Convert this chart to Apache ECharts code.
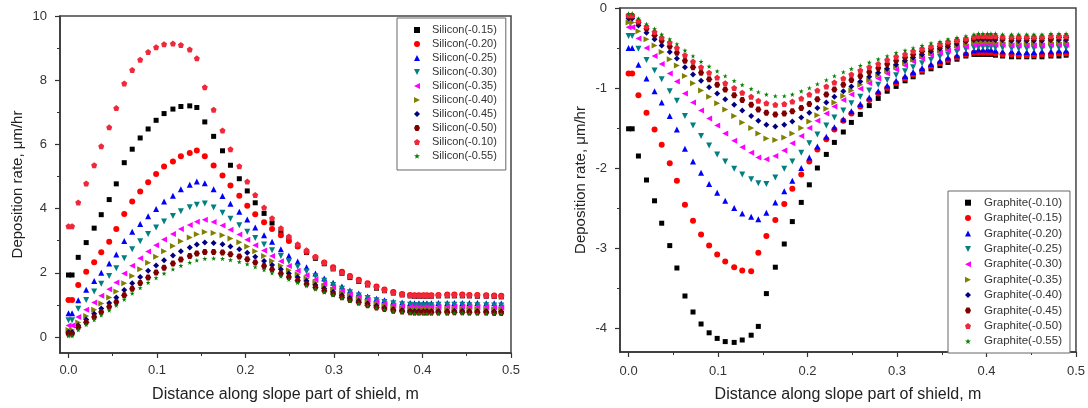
<!DOCTYPE html>
<html>
<head>
<meta charset="utf-8">
<script src="https://cdn.jsdelivr.net/npm/echarts@6/dist/echarts.min.js"></script>
<style>html,body{margin:0;padding:0;background:#fff}#c{width:1088px;height:408px}</style>
</head>
<body>
<div id="c"></div>
<script>
// shared x positions (m)
const X = [0,0.004,0.011,0.020,0.029,0.037,0.046,0.054,0.063,0.072,
 0.081,0.090,0.099,0.108,0.118,0.127,0.137,0.145,0.154,0.164,
 0.174,0.183,0.193,0.202,0.211,0.221,0.230,0.240,0.249,0.259,
 0.269,0.279,0.289,0.299,0.309,0.318,0.328,0.338,0.348,0.357,
 0.367,0.377,0.386,0.391,0.396,0.401,0.405,0.410,0.418,0.428,
 0.436,0.445,0.453,0.462,0.472,0.481,0.489];

// Silicon deposition rate (um/hr)
const SI_10 = [3.45,3.45,4.19,4.78,5.35,5.94,6.53,7.13,7.90,8.32,8.64,8.88,9.03,9.12,9.14,9.10,8.96,8.68,7.78,7.08,6.43,5.85,5.32,4.84,4.42,4.03,3.70,3.39,3.13,2.89,2.70,2.50,2.31,2.15,2.00,1.88,1.76,1.65,1.55,1.46,1.38,1.33,1.30,1.29,1.29,1.29,1.29,1.29,1.30,1.31,1.31,1.31,1.30,1.30,1.29,1.28,1.27];
const SI_15 = [1.93,1.93,2.48,2.94,3.39,3.81,4.28,4.77,5.43,5.85,6.20,6.48,6.75,6.96,7.10,7.18,7.20,7.15,6.70,6.25,5.80,5.35,4.93,4.55,4.18,3.85,3.55,3.28,3.05,2.83,2.63,2.45,2.28,2.12,1.98,1.85,1.73,1.62,1.52,1.44,1.37,1.31,1.28,1.27,1.27,1.27,1.27,1.27,1.28,1.28,1.28,1.28,1.28,1.27,1.27,1.26,1.25];
const SI_20 = [1.15,1.15,1.62,2.03,2.33,2.64,2.97,3.36,3.83,4.22,4.53,4.82,5.08,5.31,5.47,5.63,5.73,5.81,5.63,5.34,5.03,4.72,4.40,4.09,3.82,3.57,3.36,3.17,2.99,2.82,2.65,2.48,2.32,2.17,2.03,1.90,1.78,1.67,1.57,1.48,1.40,1.34,1.31,1.30,1.30,1.30,1.30,1.30,1.31,1.32,1.32,1.32,1.31,1.31,1.30,1.29,1.28];
const SI_25 = [0.74,0.74,1.14,1.47,1.74,2.00,2.29,2.57,2.99,3.28,3.52,3.76,3.99,4.22,4.40,4.60,4.74,4.84,4.79,4.60,4.39,4.15,3.90,3.66,3.41,3.17,2.97,2.73,2.53,2.35,2.17,1.98,1.82,1.69,1.57,1.45,1.35,1.26,1.19,1.14,1.10,1.07,1.06,1.05,1.05,1.05,1.05,1.05,1.06,1.06,1.06,1.06,1.06,1.06,1.05,1.05,1.04];
const SI_30 = [0.52,0.52,0.88,1.15,1.42,1.66,1.90,2.14,2.45,2.73,2.98,3.21,3.41,3.60,3.77,3.92,4.04,4.12,4.16,4.03,3.87,3.68,3.48,3.28,3.08,2.88,2.70,2.52,2.35,2.19,2.04,1.89,1.75,1.62,1.50,1.39,1.29,1.21,1.14,1.09,1.05,1.02,1.00,0.99,0.99,0.99,0.99,0.99,1.00,1.00,1.00,1.00,0.99,0.99,0.99,0.98,0.98];
const SI_35 = [0.36,0.36,0.62,0.85,1.07,1.28,1.49,1.70,1.98,2.22,2.45,2.66,2.86,3.04,3.21,3.36,3.49,3.59,3.65,3.58,3.47,3.34,3.19,3.03,2.86,2.69,2.52,2.36,2.21,2.06,1.92,1.79,1.66,1.54,1.43,1.33,1.24,1.16,1.09,1.03,0.99,0.96,0.94,0.93,0.93,0.93,0.93,0.93,0.93,0.94,0.94,0.94,0.94,0.93,0.93,0.92,0.92];
const SI_40 = [0.22,0.22,0.45,0.65,0.85,1.04,1.23,1.42,1.67,1.90,2.11,2.31,2.50,2.67,2.83,2.98,3.10,3.20,3.27,3.24,3.17,3.07,2.95,2.82,2.67,2.52,2.37,2.22,2.08,1.95,1.82,1.70,1.58,1.47,1.37,1.27,1.18,1.10,1.03,0.97,0.92,0.89,0.87,0.86,0.86,0.86,0.86,0.86,0.86,0.86,0.87,0.87,0.86,0.86,0.86,0.85,0.85];
const SI_45 = [0.15,0.15,0.36,0.54,0.72,0.89,1.06,1.23,1.46,1.67,1.87,2.06,2.23,2.39,2.54,2.67,2.79,2.88,2.94,2.93,2.89,2.82,2.73,2.62,2.50,2.37,2.24,2.11,1.98,1.86,1.74,1.62,1.51,1.40,1.30,1.21,1.12,1.04,0.97,0.91,0.86,0.83,0.81,0.80,0.80,0.80,0.80,0.80,0.80,0.80,0.81,0.81,0.80,0.80,0.80,0.79,0.79];
const SI_50 = [0.10,0.10,0.30,0.46,0.62,0.78,0.94,1.09,1.30,1.50,1.68,1.85,2.01,2.16,2.29,2.41,2.52,2.60,2.65,2.65,2.63,2.58,2.51,2.42,2.32,2.21,2.10,1.98,1.87,1.76,1.65,1.54,1.44,1.34,1.24,1.15,1.07,0.99,0.92,0.87,0.82,0.79,0.77,0.76,0.76,0.76,0.76,0.76,0.76,0.76,0.77,0.77,0.76,0.76,0.76,0.75,0.75];
const SI_55 = [0.03,0.03,0.22,0.38,0.53,0.68,0.83,0.98,1.17,1.36,1.53,1.69,1.84,1.98,2.11,2.22,2.32,2.39,2.44,2.45,2.44,2.40,2.34,2.27,2.18,2.09,1.99,1.89,1.79,1.69,1.59,1.49,1.39,1.30,1.21,1.12,1.04,0.97,0.90,0.85,0.80,0.77,0.74,0.73,0.73,0.73,0.73,0.73,0.73,0.73,0.74,0.74,0.73,0.73,0.73,0.72,0.72];

// Graphite deposition rate (um/hr)
const GR_10 = [-1.51,-1.51,-1.85,-2.15,-2.41,-2.69,-2.97,-3.25,-3.60,-3.80,-3.95,-4.06,-4.13,-4.17,-4.18,-4.15,-4.09,-3.98,-3.57,-3.24,-2.95,-2.67,-2.43,-2.21,-2.00,-1.83,-1.68,-1.55,-1.43,-1.33,-1.22,-1.13,-1.04,-0.98,-0.91,-0.86,-0.80,-0.76,-0.72,-0.68,-0.64,-0.60,-0.58,-0.58,-0.58,-0.58,-0.58,-0.59,-0.60,-0.61,-0.61,-0.61,-0.61,-0.61,-0.60,-0.60,-0.59];
const GR_15 = [-0.82,-0.82,-1.09,-1.31,-1.52,-1.71,-1.94,-2.16,-2.46,-2.66,-2.83,-2.97,-3.08,-3.17,-3.24,-3.28,-3.29,-3.06,-2.85,-2.65,-2.45,-2.26,-2.08,-1.92,-1.77,-1.64,-1.52,-1.41,-1.32,-1.23,-1.15,-1.07,-1.00,-0.94,-0.88,-0.83,-0.78,-0.73,-0.69,-0.65,-0.62,-0.58,-0.56,-0.56,-0.56,-0.56,-0.56,-0.57,-0.58,-0.58,-0.59,-0.59,-0.59,-0.58,-0.58,-0.57,-0.57];
const GR_20 = [-0.50,-0.50,-0.71,-0.88,-1.04,-1.18,-1.35,-1.52,-1.76,-1.92,-2.06,-2.20,-2.31,-2.41,-2.50,-2.57,-2.61,-2.64,-2.56,-2.43,-2.29,-2.16,-2.00,-1.87,-1.73,-1.61,-1.49,-1.39,-1.29,-1.20,-1.12,-1.04,-0.97,-0.91,-0.85,-0.80,-0.75,-0.70,-0.66,-0.62,-0.59,-0.56,-0.53,-0.52,-0.52,-0.52,-0.52,-0.53,-0.54,-0.54,-0.55,-0.55,-0.55,-0.54,-0.54,-0.53,-0.53];
const GR_25 = [-0.35,-0.35,-0.51,-0.65,-0.78,-0.89,-1.04,-1.16,-1.35,-1.47,-1.60,-1.72,-1.83,-1.92,-2.01,-2.08,-2.14,-2.19,-2.20,-2.12,-2.01,-1.92,-1.81,-1.69,-1.58,-1.47,-1.37,-1.28,-1.19,-1.11,-1.03,-0.96,-0.90,-0.84,-0.79,-0.74,-0.69,-0.65,-0.61,-0.58,-0.55,-0.52,-0.50,-0.49,-0.49,-0.49,-0.49,-0.50,-0.50,-0.51,-0.51,-0.51,-0.51,-0.51,-0.50,-0.50,-0.50];
const GR_30 = [-0.24,-0.24,-0.38,-0.50,-0.60,-0.70,-0.82,-0.92,-1.07,-1.18,-1.28,-1.38,-1.47,-1.57,-1.66,-1.74,-1.81,-1.87,-1.89,-1.85,-1.78,-1.69,-1.60,-1.50,-1.41,-1.32,-1.23,-1.15,-1.08,-1.01,-0.94,-0.88,-0.82,-0.77,-0.72,-0.67,-0.63,-0.59,-0.56,-0.53,-0.50,-0.48,-0.46,-0.45,-0.45,-0.45,-0.45,-0.46,-0.46,-0.47,-0.47,-0.47,-0.47,-0.47,-0.46,-0.46,-0.46];
const GR_35 = [-0.18,-0.18,-0.29,-0.39,-0.47,-0.55,-0.64,-0.72,-0.85,-0.94,-1.03,-1.11,-1.19,-1.27,-1.35,-1.43,-1.50,-1.57,-1.63,-1.65,-1.62,-1.57,-1.50,-1.42,-1.34,-1.26,-1.18,-1.10,-1.03,-0.96,-0.90,-0.84,-0.78,-0.73,-0.68,-0.64,-0.60,-0.56,-0.53,-0.50,-0.47,-0.45,-0.43,-0.42,-0.42,-0.42,-0.42,-0.43,-0.43,-0.44,-0.44,-0.44,-0.44,-0.44,-0.43,-0.43,-0.43];
const GR_40 = [-0.13,-0.13,-0.22,-0.31,-0.39,-0.47,-0.55,-0.63,-0.74,-0.83,-0.91,-0.99,-1.07,-1.14,-1.21,-1.28,-1.35,-1.41,-1.46,-1.48,-1.46,-1.42,-1.37,-1.31,-1.25,-1.18,-1.11,-1.04,-0.98,-0.92,-0.86,-0.81,-0.76,-0.71,-0.66,-0.62,-0.58,-0.54,-0.51,-0.48,-0.45,-0.42,-0.40,-0.39,-0.39,-0.39,-0.39,-0.40,-0.40,-0.41,-0.41,-0.41,-0.41,-0.41,-0.40,-0.40,-0.40];
const GR_45 = [-0.10,-0.10,-0.18,-0.26,-0.34,-0.41,-0.48,-0.56,-0.66,-0.74,-0.81,-0.89,-0.96,-1.02,-1.09,-1.15,-1.21,-1.27,-1.31,-1.33,-1.32,-1.29,-1.25,-1.20,-1.14,-1.08,-1.02,-0.96,-0.90,-0.85,-0.80,-0.75,-0.70,-0.66,-0.62,-0.58,-0.54,-0.51,-0.48,-0.45,-0.42,-0.40,-0.38,-0.37,-0.37,-0.37,-0.37,-0.37,-0.38,-0.38,-0.38,-0.38,-0.38,-0.38,-0.38,-0.37,-0.37];
const GR_50 = [-0.09,-0.09,-0.16,-0.23,-0.30,-0.37,-0.43,-0.50,-0.59,-0.67,-0.74,-0.81,-0.87,-0.94,-1.00,-1.06,-1.11,-1.16,-1.19,-1.21,-1.20,-1.17,-1.13,-1.08,-1.03,-0.98,-0.93,-0.88,-0.83,-0.78,-0.74,-0.70,-0.65,-0.61,-0.58,-0.54,-0.51,-0.48,-0.45,-0.42,-0.40,-0.38,-0.36,-0.35,-0.35,-0.35,-0.35,-0.35,-0.36,-0.36,-0.36,-0.36,-0.36,-0.36,-0.35,-0.35,-0.35];
const GR_55 = [-0.07,-0.07,-0.13,-0.20,-0.26,-0.33,-0.39,-0.45,-0.53,-0.60,-0.67,-0.73,-0.79,-0.85,-0.91,-0.96,-1.01,-1.05,-1.08,-1.10,-1.10,-1.08,-1.04,-1.00,-0.95,-0.90,-0.85,-0.80,-0.76,-0.72,-0.68,-0.64,-0.60,-0.56,-0.53,-0.50,-0.47,-0.44,-0.42,-0.39,-0.37,-0.35,-0.33,-0.32,-0.32,-0.32,-0.32,-0.32,-0.33,-0.33,-0.33,-0.33,-0.33,-0.33,-0.32,-0.32,-0.32];

// tick labels
const X_TICKS = [0, 0.1, 0.2, 0.3, 0.4, 0.5];
const X_MINOR = [0.05, 0.15, 0.25, 0.35, 0.45];
const SI_Y_TICKS = [0, 2, 4, 6, 8, 10];
const SI_Y_MINOR = [1, 3, 5, 7, 9];
const GR_Y_TICKS = [-4, -3, -2, -1, 0];
const GR_Y_MINOR = [-3.5, -2.5, -1.5, -0.5];

const SI_NAMES = ['Silicon(-0.15)','Silicon(-0.20)','Silicon(-0.25)','Silicon(-0.30)','Silicon(-0.35)','Silicon(-0.40)','Silicon(-0.45)','Silicon(-0.50)','Silicon(-0.10)','Silicon(-0.55)'];
const SI_DATA = [SI_15, SI_20, SI_25, SI_30, SI_35, SI_40, SI_45, SI_50, SI_10, SI_55];
const GR_NAMES = ['Graphite(-0.10)','Graphite(-0.15)','Graphite(-0.20)','Graphite(-0.25)','Graphite(-0.30)','Graphite(-0.35)','Graphite(-0.40)','Graphite(-0.45)','Graphite(-0.50)','Graphite(-0.55)'];
const GR_DATA = [GR_10, GR_15, GR_20, GR_25, GR_30, GR_35, GR_40, GR_45, GR_50, GR_55];

const COLORS = ['#000000','#FF0000','#0000FF','#008080','#FF00FF','#808000','#000080','#800000','#F0283C','#008000'];
const SYMBOLS = [
  'rect', 'circle', 'triangle',
  'path://M0,0 L10,0 L5,10 Z',
  'path://M10,0 L10,10 L0,5 Z',
  'path://M0,0 L0,10 L10,5 Z',
  'diamond',
  'path://M2.5,0 L7.5,0 L10,5 L7.5,10 L2.5,10 L0,5 Z',
  'path://M5,0 L10,3.8 L8.1,10 L1.9,10 L0,3.8 Z',
  'path://M5,0 L6.2,3.6 L10,3.6 L6.9,5.9 L8.1,9.5 L5,7.3 L1.9,9.5 L3.1,5.9 L0,3.6 L3.8,3.6 Z'
];
const SIZES = [5, 6, 6, 6, 6, 6, 6, 6, 6, 5];

const FONT = 'Liberation Sans, Arial, sans-serif';
const AX = '#333';

function mainX(grid, name, gap, margin) {
  return {
    type: 'value', gridIndex: grid, min: -0.0096, max: 0.5,
    name: name, nameLocation: 'middle', nameGap: gap,
    nameTextStyle: { fontFamily: FONT, fontSize: 16, color: '#222' },
    axisLine: { show: true, onZero: false, lineStyle: { color: AX, width: 1.5 } },
    axisTick: { show: true, inside: false, length: 5, customValues: X_TICKS, lineStyle: { color: AX, width: 1.2 } },
    axisLabel: { show: true, customValues: X_TICKS, formatter: v => v.toFixed(1), margin: margin, fontFamily: FONT, fontSize: 13, color: '#333' },
    splitLine: { show: false }
  };
}
function minorX(grid) {
  return {
    type: 'value', gridIndex: grid, min: -0.0096, max: 0.5, position: 'bottom',
    axisLine: { show: false, onZero: false },
    axisTick: { show: true, inside: false, length: 3, customValues: X_MINOR, lineStyle: { color: AX, width: 1 } },
    axisLabel: { show: false }, splitLine: { show: false }
  };
}
function mainY(grid, min, max, ticks, name, gap) {
  return {
    type: 'value', gridIndex: grid, min: min, max: max,
    name: name, nameLocation: 'middle', nameGap: gap, nameRotate: 90,
    nameTextStyle: { fontFamily: FONT, fontSize: 15, color: '#222' },
    axisLine: { show: true, onZero: false, lineStyle: { color: AX, width: 1.5 } },
    axisTick: { show: true, inside: false, length: 5, customValues: ticks, lineStyle: { color: AX, width: 1.2 } },
    axisLabel: { show: true, customValues: ticks, formatter: v => String(v), margin: 13, fontFamily: FONT, fontSize: 13, color: '#333' },
    splitLine: { show: false }
  };
}
function minorY(grid, min, max, ticks) {
  return {
    type: 'value', gridIndex: grid, min: min, max: max, position: 'left',
    axisLine: { show: false, onZero: false },
    axisTick: { show: true, inside: false, length: 3, customValues: ticks, lineStyle: { color: AX, width: 1 } },
    axisLabel: { show: false }, splitLine: { show: false }
  };
}

const series = [];
SI_NAMES.forEach((n, i) => {
  series.push({
    name: n, type: 'scatter', xAxisIndex: 0, yAxisIndex: 0,
    symbol: SYMBOLS[i], symbolSize: SIZES[i],
    itemStyle: { color: COLORS[i], opacity: 1 },
    data: X.map((x, k) => [x, SI_DATA[i][k]])
  });
});
GR_NAMES.forEach((n, i) => {
  series.push({
    name: n, type: 'scatter', xAxisIndex: 2, yAxisIndex: 2,
    symbol: SYMBOLS[i], symbolSize: SIZES[i],
    itemStyle: { color: COLORS[i], opacity: 1 },
    data: X.map((x, k) => [x, GR_DATA[i][k]])
  });
});

const option = {
  animation: false,
  backgroundColor: '#fff',
  textStyle: { fontFamily: FONT },
  grid: [
    { left: 60, top: 16, width: 451, height: 337, show: true, borderColor: '#444', borderWidth: 1.5, backgroundColor: 'transparent' },
    { left: 620, top: 8, width: 457, height: 346, show: true, borderColor: '#444', borderWidth: 1.5, backgroundColor: 'transparent' }
  ],
  xAxis: [
    mainX(0, 'Distance along slope part of shield, m', 34, 10.5),
    minorX(0),
    mainX(1, 'Distance along slope part of shield, m', 35, 12.5),
    minorX(1)
  ],
  yAxis: [
    mainY(0, -0.5, 10, SI_Y_TICKS, 'Deposition rate, \u03bcm/hr', 35),
    minorY(0, -0.5, 10, SI_Y_MINOR),
    mainY(1, -4.3, 0, GR_Y_TICKS, 'Deposition rate, \u03bcm/hr', 32),
    minorY(1, -4.3, 0, GR_Y_MINOR)
  ],
  legend: [
    {
      data: SI_NAMES, orient: 'vertical', left: 397, top: 18,
      itemWidth: 6, itemHeight: 6, itemGap: 0,
      padding: [5, 9, 7, 17],
      borderColor: '#666', borderWidth: 1, backgroundColor: '#fff',
      textStyle: { fontFamily: FONT, fontSize: 11, lineHeight: 14, color: '#333', padding: [0, 0, 0, 7] },
      selectedMode: false
    },
    {
      data: GR_NAMES, orient: 'vertical', left: 948, top: 191,
      itemWidth: 6, itemHeight: 6, itemGap: 0,
      padding: [4, 8, 4, 17],
      borderColor: '#666', borderWidth: 1, backgroundColor: '#fff',
      textStyle: { fontFamily: FONT, fontSize: 11.5, lineHeight: 15.4, color: '#333', padding: [0, 0, 0, 8] },
      selectedMode: false
    }
  ],
  series: series
};

const chart = echarts.init(document.getElementById('c'), null, { renderer: 'canvas' });
chart.setOption(option);
</script>
</body>
</html>
